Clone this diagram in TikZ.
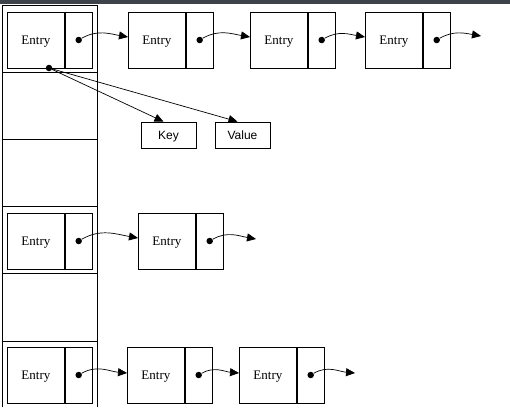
\documentclass[tikz,border=0pt]{standalone}
\usepackage{fontspec}
\setmainfont{Liberation Serif}
\newfontfamily\arialfont{Liberation Sans}
\usetikzlibrary{arrows.meta}
\definecolor{topbar}{RGB}{62,66,75}
\tikzset{
  entrypart/.style={draw, line width=0.8pt, minimum width=57pt, minimum height=56pt, inner sep=0pt, anchor=west, text depth=0pt, font=\fontsize{13}{15}\selectfont},
  ptrpart/.style={draw, line width=0.8pt, minimum width=27pt, minimum height=56pt, inner sep=0pt, anchor=west},
  dotpt/.style={circle, fill, inner sep=0pt, minimum size=6.5pt},
  link/.style={line width=0.7pt, -{Triangle[length=9pt,width=8pt]}},
  fieldbox/.style={draw, line width=0.8pt, minimum width=55pt, minimum height=26pt, inner sep=0pt, text depth=0pt, font=\arialfont\fontsize{12}{14}\selectfont},
  colline/.style={line width=0.8pt}
}
\begin{document}
\begin{tikzpicture}[x=1pt,y=-1pt]
\useasboundingbox (0,0) rectangle (510,407);
\fill[topbar] (0,0) rectangle (510,3.5);
% bucket column
\draw[colline] (2,407) -- (2,5) -- (97,5) -- (97,407);
\foreach \yy in {72,139,206,273,341} \draw[colline] (2,\yy) -- (97,\yy);
% row 1
\node[entrypart] (h1) at (7,40) {Entry};
\node[ptrpart] (hp1) at (h1.east) {};
\node[dotpt] (hd1) at (hp1.center) {};
\node[entrypart] (a1) at (128,40) {Entry};
\node[ptrpart] (ap1) at (a1.east) {};
\node[dotpt] (ad1) at (ap1.center) {};
\node[entrypart] (b1) at (250,40) {Entry};
\node[ptrpart] (bp1) at (b1.east) {};
\node[dotpt] (bd1) at (bp1.center) {};
\node[entrypart] (c1) at (365,40) {Entry};
\node[ptrpart] (cp1) at (c1.east) {};
\node[dotpt] (cd1) at (cp1.center) {};
\coordinate (end1) at (481,36);
\draw[link] (hd1) to[out=30,in=170] ([yshift=3pt]a1.west);
\draw[link] (ad1) to[out=30,in=170] ([yshift=3pt]b1.west);
\draw[link] (bd1) to[out=30,in=170] ([yshift=3pt]c1.west);
\draw[link] (cd1) to[out=30,in=170] (end1);
% key / value
\node[dotpt] (kvd) at (49,68) {};
\node[fieldbox] (key) at (168.5,135) {Key};
\node[fieldbox] (val) at (242.5,135) {Value};
\draw[link] (kvd) -- ([xshift=-5pt]key.north);
\draw[link] (kvd) -- ([xshift=-5pt]val.north);
% row 4
\node[entrypart] (h4) at (7,241) {Entry};
\node[ptrpart] (hp4) at (h4.east) {};
\node[dotpt] (hd4) at (hp4.center) {};
\node[entrypart] (a4) at (138,241) {Entry};
\node[ptrpart] (ap4) at (a4.east) {};
\node[dotpt] (ad4) at (ap4.center) {};
\coordinate (end4) at (256,239);
\draw[link] (hd4) to[out=30,in=170] ([yshift=3pt]a4.west);
\draw[link] (ad4) to[out=30,in=170] (end4);
% row 6
\node[entrypart] (h6) at (7,375) {Entry};
\node[ptrpart] (hp6) at (h6.east) {};
\node[dotpt] (hd6) at (hp6.center) {};
\node[entrypart] (a6) at (127,375) {Entry};
\node[ptrpart] (ap6) at (a6.east) {};
\node[dotpt] (ad6) at (ap6.center) {};
\node[entrypart] (b6) at (239,375) {Entry};
\node[ptrpart] (bp6) at (b6.east) {};
\node[dotpt] (bd6) at (bp6.center) {};
\coordinate (end6) at (355,373);
\draw[link] (hd6) to[out=30,in=175] ([yshift=2pt]a6.west);
\draw[link] (ad6) to[out=30,in=175] ([yshift=2pt]b6.west);
\draw[link] (bd6) to[out=30,in=175] (end6);
\end{tikzpicture}
\end{document}
